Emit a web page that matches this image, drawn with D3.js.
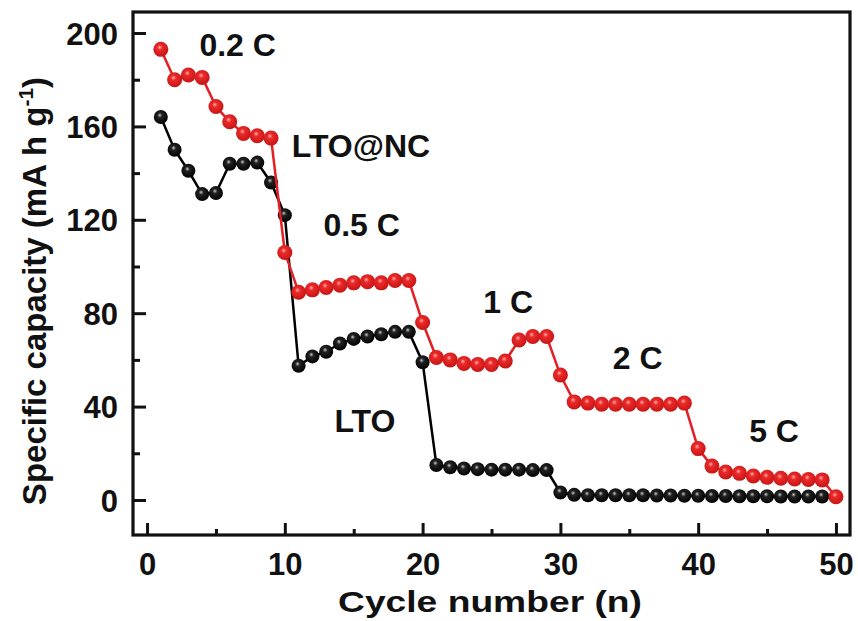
<!DOCTYPE html>
<html>
<head>
<meta charset="utf-8">
<script src="https://cdn.jsdelivr.net/npm/d3@7"></script>
<style>
  body { margin: 0; background: #fff; }
  svg text { font-family: Arial, "Liberation Sans", sans-serif; font-weight: bold; fill: #111; }
</style>
</head>
<body>
<svg id="chart" width="858" height="621"></svg>
<script>
  // LTO@NC (red) and LTO (black), specific capacity per cycle
  const ncCapacity = [193, 180, 182, 181, 168.5, 162, 157, 156, 155, 106,
    89, 90, 91, 92, 93, 93.5, 93, 94, 94, 76,
    61, 60, 58.5, 58, 58, 59.5, 68.5, 70, 70, 53.5,
    42, 41.5, 41, 41, 41, 41, 41, 41, 41.5, 22,
    14.5, 12, 11.4, 10.3, 9.7, 9.3, 9, 8.8, 8.6, 1.4];
  const ltoCapacity = [164, 150, 141, 131, 131.5, 144, 144, 144.5, 136, 122,
    57.5, 61.5, 63.5, 67, 69, 70, 71, 72, 72, 59,
    15, 14, 13.5, 13.2, 13, 13, 13, 12.8, 12.8, 3.2,
    2.2, 2, 2, 2, 2, 2, 1.9, 1.9, 1.8, 1.8,
    1.7, 1.7, 1.6, 1.6, 1.6, 1.5, 1.5, 1.5, 1.5];

  const xTicks = [0, 10, 20, 30, 40, 50];
  const yTicks = [0, 40, 80, 120, 160, 200];

  const labels = [
    { text: "0.2 C", cycle: 3.8, value: 190 },
    { text: "LTO@NC", cycle: 10.5, value: 147 },
    { text: "0.5 C", cycle: 12.8, value: 113 },
    { text: "1 C", cycle: 24.4, value: 80 },
    { text: "2 C", cycle: 33.8, value: 56 },
    { text: "5 C", cycle: 43.7, value: 25 },
    { text: "LTO", cycle: 13.6, value: 29 }
  ];

  const svg = d3.select("#chart");
  const plotLeft = 133, plotRight = 850, plotTop = 12, plotBottom = 535;

  const x = d3.scaleLinear().domain([-1.02, 51.02]).range([plotLeft, plotRight]);
  const y = d3.scaleLinear().domain([-15, 209]).range([plotBottom, plotTop]);

  // sphere gradients
  const defs = svg.append("defs");
  function sphere(id, hi, mid, edge) {
    const g = defs.append("radialGradient").attr("id", id)
      .attr("cx", "45%").attr("cy", "42%").attr("r", "60%")
      .attr("fx", "42%").attr("fy", "36%");
    g.append("stop").attr("offset", "0%").attr("stop-color", hi);
    g.append("stop").attr("offset", "28%").attr("stop-color", mid);
    g.append("stop").attr("offset", "100%").attr("stop-color", edge);
  }
  sphere("redBall", "#ffb0b0", "#ec2a2a", "#c41414");
  sphere("blackBall", "#c8c8c8", "#222", "#000");

  // frame
  svg.append("rect")
    .attr("x", plotLeft).attr("y", plotTop)
    .attr("width", plotRight - plotLeft).attr("height", plotBottom - plotTop)
    .attr("fill", "none").attr("stroke", "#111").attr("stroke-width", 3.2);

  // axes with inward ticks
  const xAxis = svg.append("g").attr("transform", `translate(0,${plotBottom})`);
  xAxis.call(d3.axisBottom(x).tickValues(d3.range(0, 51, 5)).tickSizeInner(-12).tickSizeOuter(0).tickFormat(""));
  xAxis.selectAll(".tick line").attr("y2", d => d % 10 === 0 ? -12 : -6).attr("stroke", "#111").attr("stroke-width", 3);
  xAxis.select(".domain").remove();
  xAxis.selectAll(".tick").filter(d => xTicks.includes(d)).append("text")
    .attr("y", 40).attr("text-anchor", "middle")
    .style("font-size", "31px")
    .text(d => d);

  const yAxis = svg.append("g").attr("transform", `translate(${plotLeft},0)`);
  yAxis.call(d3.axisLeft(y).tickValues(d3.range(0, 201, 20)).tickSizeInner(-13).tickSizeOuter(0).tickFormat(""));
  yAxis.selectAll(".tick line").attr("x2", d => d % 40 === 0 ? 13 : 7).attr("stroke", "#111").attr("stroke-width", 3);
  yAxis.select(".domain").remove();
  yAxis.selectAll(".tick").filter(d => yTicks.includes(d)).append("text")
    .attr("x", -15).attr("dy", "0.36em").attr("text-anchor", "end")
    .style("font-size", "31px")
    .text(d => d);

  // series
  const line = d3.line().x((d, i) => x(i + 1)).y(d => y(d));

  function drawSeries(values, color, fill, r) {
    svg.append("path").datum(values)
      .attr("d", line).attr("fill", "none")
      .attr("stroke", color).attr("stroke-width", 2.5);
    svg.append("g").selectAll("circle").data(values).join("circle")
      .attr("cx", (d, i) => x(i + 1)).attr("cy", d => y(d))
      .attr("r", r).attr("fill", fill);
  }
  drawSeries(ltoCapacity, "#000", "url(#blackBall)", 7);
  drawSeries(ncCapacity, "#e41e24", "url(#redBall)", 7.5);

  // annotations
  svg.append("g").selectAll("text").data(labels).join("text")
    .attr("x", d => x(d.cycle)).attr("y", d => y(d.value))
    .style("font-size", "32px")
    .text(d => d.text);

  // axis titles
  svg.append("text")
    .attr("x", 490).attr("y", 612).attr("text-anchor", "middle")
    .attr("textLength", 304).attr("lengthAdjust", "spacingAndGlyphs")
    .style("font-size", "30px")
    .text("Cycle number (n)");

  const yTitle = svg.append("text")
    .attr("transform", "translate(46,291) rotate(-90)")
    .attr("text-anchor", "middle")
    .style("font-size", "33px");
  yTitle.append("tspan").text("Specific capacity (mA h g");
  yTitle.append("tspan").attr("dy", -13).style("font-size", "21px").text("-1");
  yTitle.append("tspan").attr("dy", 13).text(")");
</script>
</body>
</html>
